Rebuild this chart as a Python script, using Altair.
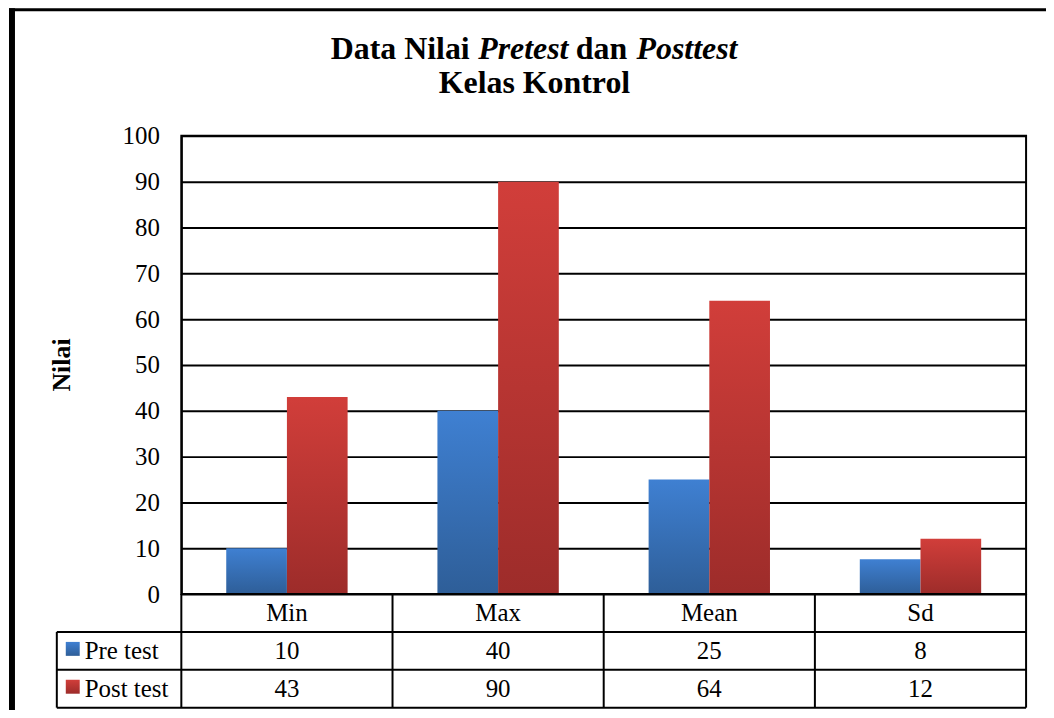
import altair as alt
import pandas as pd

categories = ["Min", "Max", "Mean", "Sd"]
series = ["Pre test", "Post test"]
pre_values = [10, 40, 25, 7.6]
post_values = [43, 90, 64, 12.1]
y_ticks = list(range(0, 101, 10))

title_parts = ["Data Nilai", "Pretest", "dan", "Posttest"]
title_line2 = "Kelas Kontrol"
y_title = "Nilai"

FONT = "Liberation Serif"

rows = []
for c, v in zip(categories, pre_values):
    rows.append({"cat": c, "series": series[0], "value": v})
for c, v in zip(categories, post_values):
    rows.append({"cat": c, "series": series[1], "value": v})
df = pd.DataFrame(rows)

blue_grad = alt.Gradient(
    gradient="linear", x1=0, y1=0, x2=0, y2=1,
    stops=[alt.GradientStop(color="#3F80D2", offset=0),
           alt.GradientStop(color="#2E5E98", offset=1)])
red_grad = alt.Gradient(
    gradient="linear", x1=0, y1=0, x2=0, y2=1,
    stops=[alt.GradientStop(color="#D13E3A", offset=0),
           alt.GradientStop(color="#9D2C2A", offset=1)])

x_enc = alt.X("cat:N", sort=categories, axis=None,
              scale=alt.Scale(paddingInner=0, paddingOuter=0))
xoff_enc = alt.XOffset("series:N", sort=series,
                       scale=alt.Scale(domain=series, paddingInner=0, paddingOuter=0.74))
y_enc = alt.Y("value:Q", scale=alt.Scale(domain=[0, 100], nice=False),
              axis=alt.Axis(values=y_ticks, grid=True, gridColor="black", gridWidth=2,
                            domainColor="black", domainWidth=2, ticks=False,
                            labelFont=FONT, labelFontSize=25, labelColor="black",
                            labelPadding=22, title=None))

base = alt.Chart(df)

pre_bars = base.transform_filter(alt.datum.series == series[0]).mark_bar(
    fill=blue_grad, stroke=None).encode(x=x_enc, xOffset=xoff_enc, y=y_enc)
post_bars = base.transform_filter(alt.datum.series == series[1]).mark_bar(
    fill=red_grad, stroke=None).encode(x=x_enc, xOffset=xoff_enc, y=y_enc)

# table header (category names)
cat_df = pd.DataFrame({"cat": categories})
header = alt.Chart(cat_df).mark_text(font=FONT, fontSize=25, color="black",
                                      baseline="middle").encode(
    x=alt.X("cat:N", sort=categories, axis=None), y=alt.value(479), text="cat:N")

pre_text = base.transform_filter(alt.datum.series == series[0]).mark_text(
    font=FONT, fontSize=25, color="black", baseline="middle").encode(
    x=alt.X("cat:N", sort=categories, axis=None), y=alt.value(517),
    text=alt.Text("value:Q", format=".0f"))
post_text = base.transform_filter(alt.datum.series == series[1]).mark_text(
    font=FONT, fontSize=25, color="black", baseline="middle").encode(
    x=alt.X("cat:N", sort=categories, axis=None), y=alt.value(555),
    text=alt.Text("value:Q", format=".0f"))

# table grid lines
vlines = alt.Chart(cat_df).mark_rule(color="black", strokeWidth=2).encode(
    x=alt.X("cat:N", sort=categories, axis=None, bandPosition=0),
    y=alt.value(460), y2=alt.value(574))
one = pd.DataFrame({"k": [0]})
rules = [
    alt.Chart(one).mark_rule(color="black", strokeWidth=2).encode(
        x=alt.value(848), y=alt.value(460), y2=alt.value(574)),
    alt.Chart(one).mark_rule(color="black", strokeWidth=2).encode(
        x=alt.value(-125), y=alt.value(498), y2=alt.value(574)),
    alt.Chart(one).mark_rule(color="black", strokeWidth=2).encode(
        x=alt.value(0), x2=alt.value(848), y=alt.value(460)),
    alt.Chart(one).mark_rule(color="black", strokeWidth=2).encode(
        x=alt.value(-125), x2=alt.value(848), y=alt.value(498)),
    alt.Chart(one).mark_rule(color="black", strokeWidth=2).encode(
        x=alt.value(-125), x2=alt.value(848), y=alt.value(536)),
    alt.Chart(one).mark_rule(color="black", strokeWidth=2).encode(
        x=alt.value(-125), x2=alt.value(848), y=alt.value(574)),
    # outer frame
    alt.Chart(one).mark_rule(color="black", strokeWidth=6).encode(
        x=alt.value(-170), y=alt.value(-128), y2=alt.value(600)),
    alt.Chart(one).mark_rule(color="black", strokeWidth=3).encode(
        x=alt.value(-173), x2=alt.value(880), y=alt.value(-126.5)),
]

# legend keys in table
leg_pre_key = alt.Chart(one).mark_rect(fill=blue_grad).encode(
    x=alt.value(-116), x2=alt.value(-102), y=alt.value(508), y2=alt.value(522))
leg_post_key = alt.Chart(one).mark_rect(fill=red_grad).encode(
    x=alt.value(-116), x2=alt.value(-102), y=alt.value(546), y2=alt.value(560))
leg_pre_txt = alt.Chart(pd.DataFrame({"s": [series[0]]})).mark_text(
    font=FONT, fontSize=25, color="black", align="left", baseline="middle").encode(
    x=alt.value(-97), y=alt.value(517), text="s:N")
leg_post_txt = alt.Chart(pd.DataFrame({"s": [series[1]]})).mark_text(
    font=FONT, fontSize=25, color="black", align="left", baseline="middle").encode(
    x=alt.value(-97), y=alt.value(555), text="s:N")

# title
def tpart(txt, x, italic):
    return alt.Chart(pd.DataFrame({"t": [txt]})).mark_text(
        font=FONT, fontSize=32, fontWeight="bold",
        fontStyle="italic" if italic else "normal",
        color="black", align="left", baseline="alphabetic").encode(
        x=alt.value(x), y=alt.value(-77), text="t:N")

t1 = tpart(title_parts[0], 150, False)
t2 = tpart(title_parts[1], 298, True)
t3 = tpart(title_parts[2], 396, False)
t4 = tpart(title_parts[3], 457, True)
t5 = alt.Chart(pd.DataFrame({"t": [title_line2]})).mark_text(
    font=FONT, fontSize=32, fontWeight="bold", color="black",
    align="center", baseline="alphabetic").encode(
    x=alt.value(354.5), y=alt.value(-43), text="t:N")

ytitle = alt.Chart(pd.DataFrame({"t": [y_title]})).mark_text(
    font=FONT, fontSize=26, fontWeight="bold", color="black", angle=270,
    align="center", baseline="middle").encode(
    x=alt.value(-120), y=alt.value(230), text="t:N")

chart = alt.layer(
    pre_bars, post_bars, header, pre_text, post_text, vlines, *rules,
    leg_pre_key, leg_post_key, leg_pre_txt, leg_post_txt,
    t1, t2, t3, t4, t5, ytitle
).properties(
    width=848, height=460, autosize="none",
    padding={"left": 174, "top": 127, "right": 20, "bottom": 115},
    background="white"
).configure_view(stroke="black", strokeWidth=2)

chart.save("out.html", embed_options={"renderer": "svg", "actions": False})
